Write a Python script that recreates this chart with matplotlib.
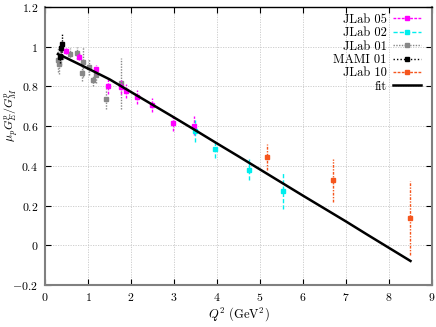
import matplotlib
matplotlib.use("Agg")
import matplotlib.pyplot as plt
from matplotlib.lines import Line2D

plt.rcParams['font.family'] = 'serif'
plt.rcParams['font.serif'] = ['cmr10']
plt.rcParams['mathtext.fontset'] = 'cm'
plt.rcParams['axes.formatter.use_mathtext'] = True

# ---- data ----
jlab05_q2 = [0.48, 0.79, 1.18, 1.47, 1.77, 1.88, 2.13, 2.48, 2.97, 3.47]
jlab05_r = [0.980, 0.950, 0.886, 0.800, 0.795, 0.778, 0.747, 0.706, 0.616, 0.603]
jlab05_e = [0.015, 0.018, 0.023, 0.038, 0.035, 0.035, 0.035, 0.035, 0.040, 0.048]

jlab02_q2 = [3.49, 3.96, 4.75, 5.54]
jlab02_r = [0.576, 0.483, 0.381, 0.273]
jlab02_e = [0.057, 0.045, 0.052, 0.090]

jlab01_q2 = [0.30, 0.33, 0.38, 0.57, 0.75, 0.88, 0.85, 1.02, 1.12, 1.18, 1.42, 1.76]
jlab01_r = [0.935, 0.915, 0.950, 0.965, 0.970, 0.925, 0.868, 0.900, 0.830, 0.858, 0.735, 0.815]
jlab01_e = [0.06, 0.05, 0.04, 0.03, 0.03, 0.075, 0.04, 0.04, 0.03, 0.04, 0.05, 0.13]

mami01_q2 = [0.35, 0.38, 0.40]
mami01_r = [0.950, 0.995, 1.012]
mami01_e = [0.03, 0.035, 0.052]

jlab10_q2 = [5.17, 6.70, 8.49]
jlab10_r = [0.444, 0.327, 0.137]
jlab10_e = [0.067, 0.110, 0.187]

fit_q2 = [0.3, 0.5, 1.0, 1.5, 2.0, 2.5, 3.0, 3.5, 4.0, 4.5, 5.0, 5.5, 6.0, 6.5, 7.0, 7.5, 8.0, 8.5]
fit_r = [0.963, 0.943, 0.890, 0.836, 0.772, 0.708, 0.644, 0.579, 0.513, 0.448, 0.382,
         0.316, 0.250, 0.185, 0.120, 0.053, -0.013, -0.079]

xticks = [0, 1, 2, 3, 4, 5, 6, 7, 8, 9]
yticks = [-0.2, 0, 0.2, 0.4, 0.6, 0.8, 1.0, 1.2]
ytick_labels = [r'$-0.2$', r'$0$', r'$0.2$', r'$0.4$', r'$0.6$', r'$0.8$', r'$1$', r'$1.2$']

c05 = '#ff00ff'
c02 = '#00eeee'
c01 = '#888888'
cmami = '#000000'
c10 = '#f5561e'

fig = plt.figure(figsize=(4.36, 3.27), dpi=100)
ax = fig.add_axes([0.1032, 0.1284, 0.8876, 0.8502])

def draw(q, r, e, color, ls, zorder):
    eb = ax.errorbar(q, r, yerr=e, fmt='s', color=color, ms=3.0, mec=color,
                     elinewidth=1.0, capsize=0, zorder=zorder)
    for lc in eb[2]:
        lc.set_linestyle(ls)
    return eb

draw(jlab01_q2, jlab01_r, jlab01_e, c01, (0, (1, 1)), 3)
draw(mami01_q2, mami01_r, mami01_e, cmami, (0, (1, 1)), 4)
draw(jlab05_q2, jlab05_r, jlab05_e, c05, (0, (2, 1)), 5)
draw(jlab02_q2, jlab02_r, jlab02_e, c02, (0, (3, 1.5)), 5)
draw(jlab10_q2, jlab10_r, jlab10_e, c10, (0, (2, 1, 1, 1)), 5)
ax.plot(fit_q2, fit_r, color='black', lw=1.8, zorder=6)

ax.set_xlim(0, 9)
ax.set_ylim(-0.2, 1.2)
ax.set_xticks(xticks)
ax.set_yticks(yticks)
ax.set_yticklabels(ytick_labels)
ax.tick_params(direction='in', length=4, width=0.8, top=True, right=True,
               labelsize=8.5, pad=4)
ax.tick_params(axis='y', pad=5)
ax.grid(True, color='#c8c8c8', linestyle=(0, (1.5, 1.5)), linewidth=0.6)
ax.set_axisbelow(True)

for s in ['left', 'bottom', 'right']:
    ax.spines[s].set_color('#808080')
    ax.spines[s].set_linewidth(1.5)
ax.spines['top'].set_color('black')
ax.spines['top'].set_linewidth(1.0)

ax.set_xlabel(r'$Q^2$ (GeV$^2$)', fontsize=9, labelpad=2)
ax.set_ylabel(r'$\mu_p G_E^p / G_M^p$', fontsize=8.5)
ax.yaxis.set_label_coords(-0.062, 0.61)

handles = [
    Line2D([], [], color=c05, ls=(0, (2, 1)), marker='s', ms=3.0, lw=1),
    Line2D([], [], color=c02, ls=(0, (3, 1.5)), marker='s', ms=3.0, lw=1),
    Line2D([], [], color=c01, ls=(0, (1, 1)), marker='s', ms=3.0, lw=1),
    Line2D([], [], color=cmami, ls=(0, (1, 1.5)), marker='s', ms=3.0, lw=1),
    Line2D([], [], color=c10, ls=(0, (2, 1)), marker='s', ms=3.0, lw=1),
    Line2D([], [], color='black', lw=1.8),
]
labels = ['JLab 05', 'JLab 02', 'JLab 01', 'MAMI 01', 'JLab 10', 'fit']
ax.legend(handles, labels, loc='upper right', markerfirst=False, frameon=False,
          fontsize=9, labelspacing=0.1, handlelength=2.2, handletextpad=0.5,
          numpoints=1, borderaxespad=0.2, bbox_to_anchor=(0.99, 1.003))

fig.savefig('out.png', dpi=100)
